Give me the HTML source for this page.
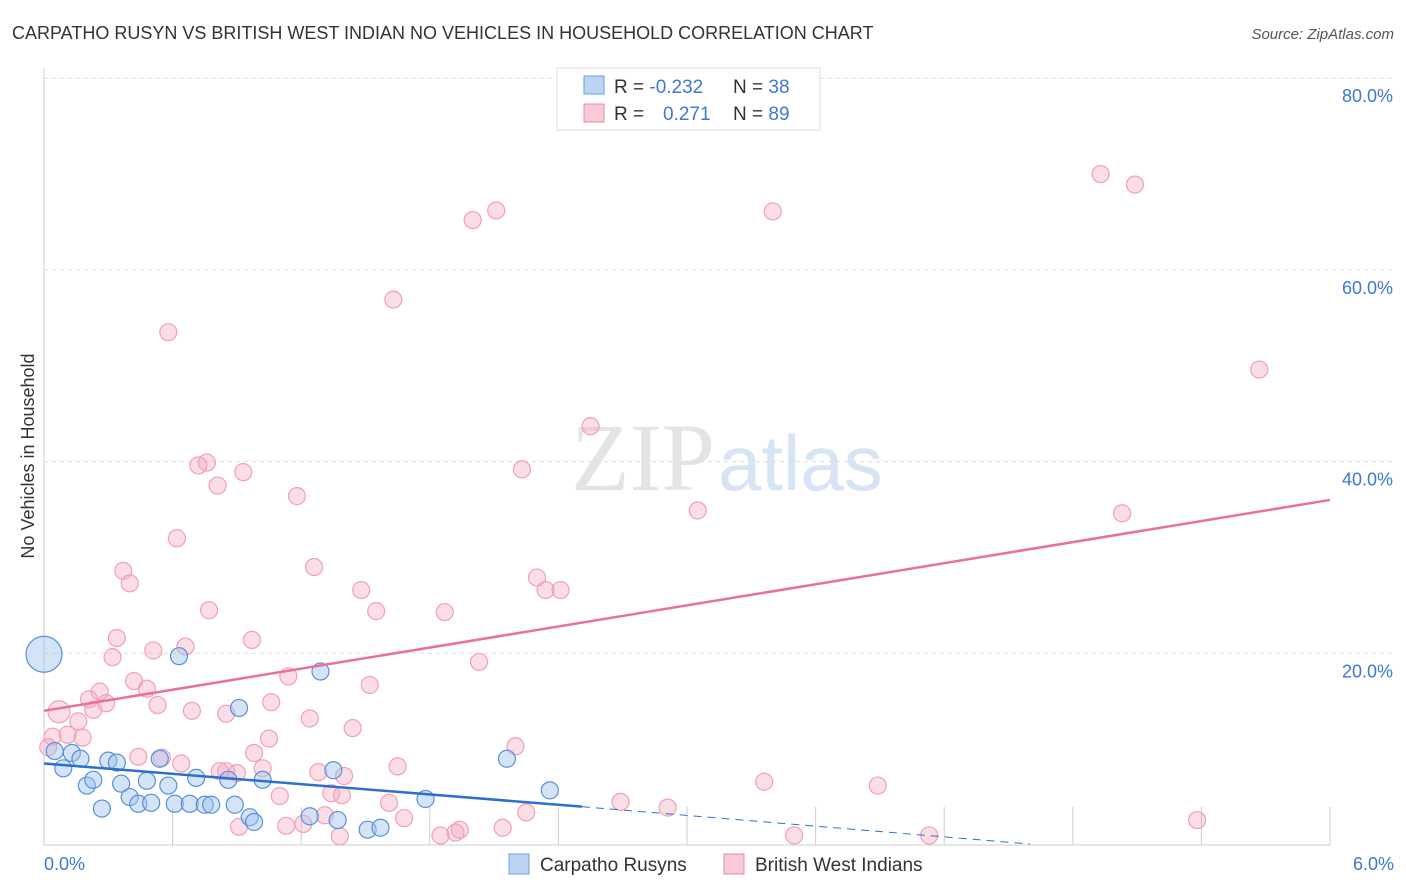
<!DOCTYPE html>
<html><head><meta charset="utf-8"><style>
body{margin:0;background:#fff;font-family:"Liberation Sans",sans-serif;}
svg{display:block}
</style></head><body>
<svg width="1406" height="892">
<text x="12" y="39" font-size="18" fill="#333">CARPATHO RUSYN VS BRITISH WEST INDIAN NO VEHICLES IN HOUSEHOLD CORRELATION CHART</text>
<text x="1394" y="39" font-size="15" fill="#555" font-style="italic" text-anchor="end">Source: ZipAtlas.com</text>
<text x="715" y="490" font-size="96" fill="#e4e4e4" text-anchor="end" font-family="Liberation Serif,serif">ZIP</text>
<text x="718" y="490" font-size="78" fill="#d6e4f4">atlas</text>
<g id="grid"></g><g id="pts"></g><g id="lines"></g>
<text transform="translate(34,456) rotate(-90)" font-size="18" fill="#333" text-anchor="middle">No Vehicles in Household</text>
<text x="44" y="870" font-size="18" fill="#3b78d8">0.0%</text>
<text x="1394" y="870" font-size="18" fill="#3b78d8" text-anchor="end">6.0%</text>
<g>
<rect x="557" y="68" width="263" height="62" fill="#fff" stroke="#ddd"/>
<rect x="584" y="76" width="20" height="18" fill="#bcd4f3" stroke="#6b9ee0"/>
<rect x="584" y="104" width="20" height="18" fill="#f9c9d6" stroke="#ea8aa6"/>
<text x="614" y="93" font-size="19" fill="#333">R = <tspan fill="#3b78d8">-0.232</tspan><tspan x="733">N = </tspan><tspan fill="#3b78d8">38</tspan></text>
<text x="614" y="120" font-size="19" fill="#333">R = <tspan fill="#3b78d8" x="663">0.271</tspan><tspan x="733">N = </tspan><tspan fill="#3b78d8">89</tspan></text>
</g>
<g>
<rect x="509" y="854" width="20" height="20" fill="#bcd4f3" stroke="#6b9ee0"/>
<text x="540" y="871" font-size="19" fill="#333">Carpatho Rusyns</text>
<rect x="724" y="854" width="20" height="20" fill="#f9c9d6" stroke="#ea8aa6"/>
<text x="755" y="871" font-size="19" fill="#333">British West Indians</text>
</g>
</svg>
<script>
const yTicks=[20,40,60,80];
const xTicks=[0.6,1.2,1.8,2.4,3.0,3.6,4.2,4.8,5.4,6.0];
const blueX=[0,0.63,1.29,0.91,0.05,0.09,0.13,0.17,0.20,0.23,0.27,0.30,0.34,0.36,0.40,0.44,0.48,0.50,0.54,0.58,0.61,0.68,0.71,0.75,0.78,0.86,0.89,0.96,0.98,1.02,1.24,1.35,1.37,1.51,1.57,1.78,2.16,2.36];
const blueY=[19.9,19.7,18.1,14.3,9.8,8.0,9.6,9.0,6.2,6.8,3.8,8.8,8.6,6.4,5.0,4.3,6.7,4.4,9.0,6.2,4.3,4.3,7.0,4.2,4.2,6.8,4.2,2.9,2.4,6.8,3.0,7.8,2.6,1.6,1.8,4.8,9.0,5.7];
const pinkX=[0.58,1.63,2.0,2.11,3.4,4.93,5.09,5.67,2.55,0.76,0.72,0.93,0.81,1.18,2.23,3.05,5.03,0.62,1.26,0.37,0.40,2.30,1.48,2.34,2.41,0.77,1.55,1.87,0.34,0.97,0.51,0.66,0.32,2.03,1.14,0.42,0.48,0.26,1.52,0.21,0.29,0.53,0.23,0.69,0.85,1.06,1.24,0.07,0.16,1.44,1.05,0.04,0.11,0.18,0.02,2.20,0.44,0.55,0.98,0.64,1.65,1.40,0.85,0.82,0.90,1.28,1.02,1.34,1.39,1.10,1.61,1.68,3.36,3.89,2.69,2.91,2.25,1.13,1.21,1.31,1.94,1.92,2.14,1.85,3.50,4.13,5.38,1.38,0.91];
const pinkY=[53.5,56.9,65.2,66.2,66.1,70.0,68.9,49.6,43.7,39.9,39.6,38.9,37.5,36.4,39.2,34.9,34.6,32.0,29.0,28.6,27.3,27.9,26.6,26.6,26.6,24.5,24.4,24.3,21.6,21.4,20.3,20.7,19.6,19.1,17.6,17.1,16.3,16.0,16.7,15.2,14.8,14.6,14.1,14.0,13.7,14.9,13.2,13.9,12.9,12.2,11.1,11.3,11.5,11.2,10.2,10.3,9.2,9.1,9.6,8.5,8.2,7.2,7.7,7.7,7.5,7.6,8.0,5.4,5.2,5.1,4.4,2.8,6.6,6.2,4.5,3.9,3.4,2.0,2.2,3.1,1.6,1.3,1.8,1.0,1.0,1.0,2.6,0.9,1.9];
const X=v=>44+v/6*1286, Y=v=>845-v*9.585;
const ns="http://www.w3.org/2000/svg";
function mk(t,a,p){const e=document.createElementNS(ns,t);for(const k in a)e.setAttribute(k,a[k]);p.appendChild(e);return e;}
const g=document.getElementById('grid');
mk('line',{x1:44,y1:68,x2:44,y2:845,stroke:'#ccc'},g);
mk('line',{x1:44,y1:845,x2:1330,y2:845,stroke:'#ccc'},g);
yTicks.forEach(t=>{
const l=mk('line',{x1:44,y1:Y(t),x2:1394,y2:Y(t),stroke:'#ddd','stroke-dasharray':'4,4'},g);


const tx=mk('text',{x:1393,y:Y(t)+24,'font-size':18,fill:'#3b78d8','text-anchor':'end'},g);
tx.textContent=t.toFixed(1)+'%';


});
xTicks.forEach(t=>{
const l=mk('line',{x1:X(t),y1:807,x2:X(t),y2:845,stroke:'#ccc'},g);


});
const p=document.getElementById('pts');
pinkX.forEach((x,i)=>{
const c=mk('circle',{cx:X(x),cy:Y(pinkY[i]),r:i==47?11:8.5,fill:'rgba(246,170,192,0.4)',stroke:'#f0a0b8','stroke-width':1.2},p);


});
blueX.forEach((x,i)=>{
const c=mk('circle',{cx:X(x),cy:Y(blueY[i]),r:i==0?18:8.5,fill:'rgba(160,196,238,0.45)',stroke:'#5a90d8','stroke-width':1.2},p);


});
const L=document.getElementById('lines');
const pl=mk('line',{x1:X(0),y1:Y(14.0),x2:X(6),y2:Y(36.0),stroke:'#e8709a','stroke-width':2.5},L);


const bl=mk('line',{x1:X(0),y1:Y(8.5),x2:X(2.51),y2:Y(4.0),stroke:'#2d6fd0','stroke-width':2.5},L);


const bd=mk('line',{x1:X(2.51),y1:Y(4.0),x2:X(4.6),y2:Y(0.1),stroke:'#2d6fd0','stroke-width':1,'stroke-dasharray':'8,6'},L);


</script>
</body></html>
